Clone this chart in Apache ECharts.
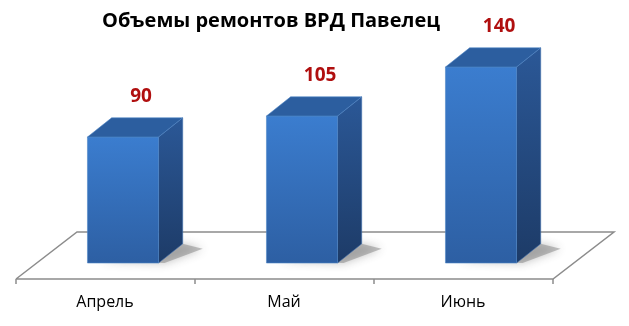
<!DOCTYPE html>
<html><head><meta charset="utf-8">
<script src="https://cdn.jsdelivr.net/npm/echarts@6/dist/echarts.min.js"></script>
<style>html,body{margin:0;padding:0;background:#fff}#c{width:629px;height:326px}</style>
</head><body><div id="c"></div>
<script>
const titleText = 'Объемы ремонтов ВРД Павелец';
const categories = ['Апрель', 'Май', 'Июнь'];
const values = [90, 105, 140];

const chart = echarts.init(document.getElementById('c'), null, {renderer: 'canvas'});
const FONT = '"Open Sans", "Liberation Sans", Arial, sans-serif';

function floorItem(params, api) {
  const n = categories.length;
  const band = api.size([1, 0])[0];
  const p0 = api.coord([0, 0]);
  const pN = api.coord([n - 1, 0]);
  const start = p0[0] - band / 2, end = pN[0] + band / 2, yb = p0[1];
  const fy = yb + 16, by = yb - 31;
  const fx0 = start - 17.5, fx1 = end - 17.5, bx0 = start + 43.5, bx1 = end + 43.5;
  const st = {stroke: '#8c8c8c', lineWidth: 1.5, fill: null};
  const children = [
    {type: 'polyline', shape: {points: [[fx0, fy], [bx0, by], [bx1, by], [fx1, fy], [fx0, fy]]}, style: st}
  ];
  for (let k = 0; k <= n; k++) {
    const x = fx0 + k * band;
    children.push({type: 'line', shape: {x1: x, y1: fy, x2: x, y2: fy + 5}, style: {stroke: '#8c8c8c', lineWidth: 1.5}});
  }
  return {type: 'group', children};
}

function barItem(params, api) {
  const i = api.value(0), v = api.value(1);
  const base = api.coord([i, 0]);
  const top = api.coord([i, v]);
  const bw = api.size([1, 0])[0] * 0.397;
  const dx = bw * 0.34, dy = -bw * 0.27;
  const x0 = base[0] - bw / 2, x1 = x0 + bw, yb = base[1], yt = top[1];
  return {
    type: 'group',
    children: [
      {type: 'polygon', shape: {points: [[x0 + 12, yb - 2], [x1 + 6, yb], [x1 + dx + 20, yb + dy + 5], [x1 + dx, yb + dy]]},
        style: {fill: 'rgba(120,120,120,0.45)', shadowBlur: 10, shadowColor: 'rgba(60,60,60,0.7)'}},
      {type: 'polygon', shape: {points: [[x1, yt], [x1 + dx, yt + dy], [x1 + dx, yb + dy], [x1, yb]]},
        style: {fill: new echarts.graphic.LinearGradient(0, 0, 0, 1, [{offset: 0, color: '#2b5897'}, {offset: 1, color: '#1d3b67'}]),
          stroke: '#3d6cab', lineWidth: 0.6}},
      {type: 'rect', shape: {x: x0, y: yt, width: bw, height: yb - yt},
        style: {fill: new echarts.graphic.LinearGradient(0, 0, 0, 1, [{offset: 0, color: '#3b7dcf'}, {offset: 1, color: '#2d5fa3'}]),
          stroke: '#4f86c6', lineWidth: 0.6}},
      {type: 'polygon', shape: {points: [[x0, yt], [x1, yt], [x1 + dx, yt + dy], [x0 + dx, yt + dy]]},
        style: {fill: '#2c5e9f', stroke: '#4f86c6', lineWidth: 0.6}},
      {type: 'text', style: {x: x0 + bw / 2 + dx * 0.75, y: yt + dy - 21, text: String(v), fill: '#b00f0f',
        font: 'bold 19px ' + FONT, align: 'center', verticalAlign: 'middle'}}
    ]
  };
}

chart.setOption({
  animation: false,
  backgroundColor: '#fff',
  title: {text: titleText, left: 97, top: 6, textStyle: {fontFamily: FONT, fontSize: 20, fontWeight: 'bold', color: '#000'}},
  grid: {left: 33.5, right: 58.5, top: 53, bottom: 63},
  xAxis: {type: 'category', data: categories, axisLine: {show: false}, axisTick: {show: false},
    axisLabel: {margin: 31, padding: [0, 36, 0, 0], fontFamily: FONT, fontSize: 16, color: '#000'}},
  yAxis: {type: 'value', min: 0, max: 150, show: false},
  series: [
    {type: 'custom', renderItem: floorItem, data: [[0, 0]], silent: true, z: 1},
    {type: 'custom', renderItem: barItem, data: values.map((v, i) => [i, v]), z: 2}
  ]
});
</script></body></html>
